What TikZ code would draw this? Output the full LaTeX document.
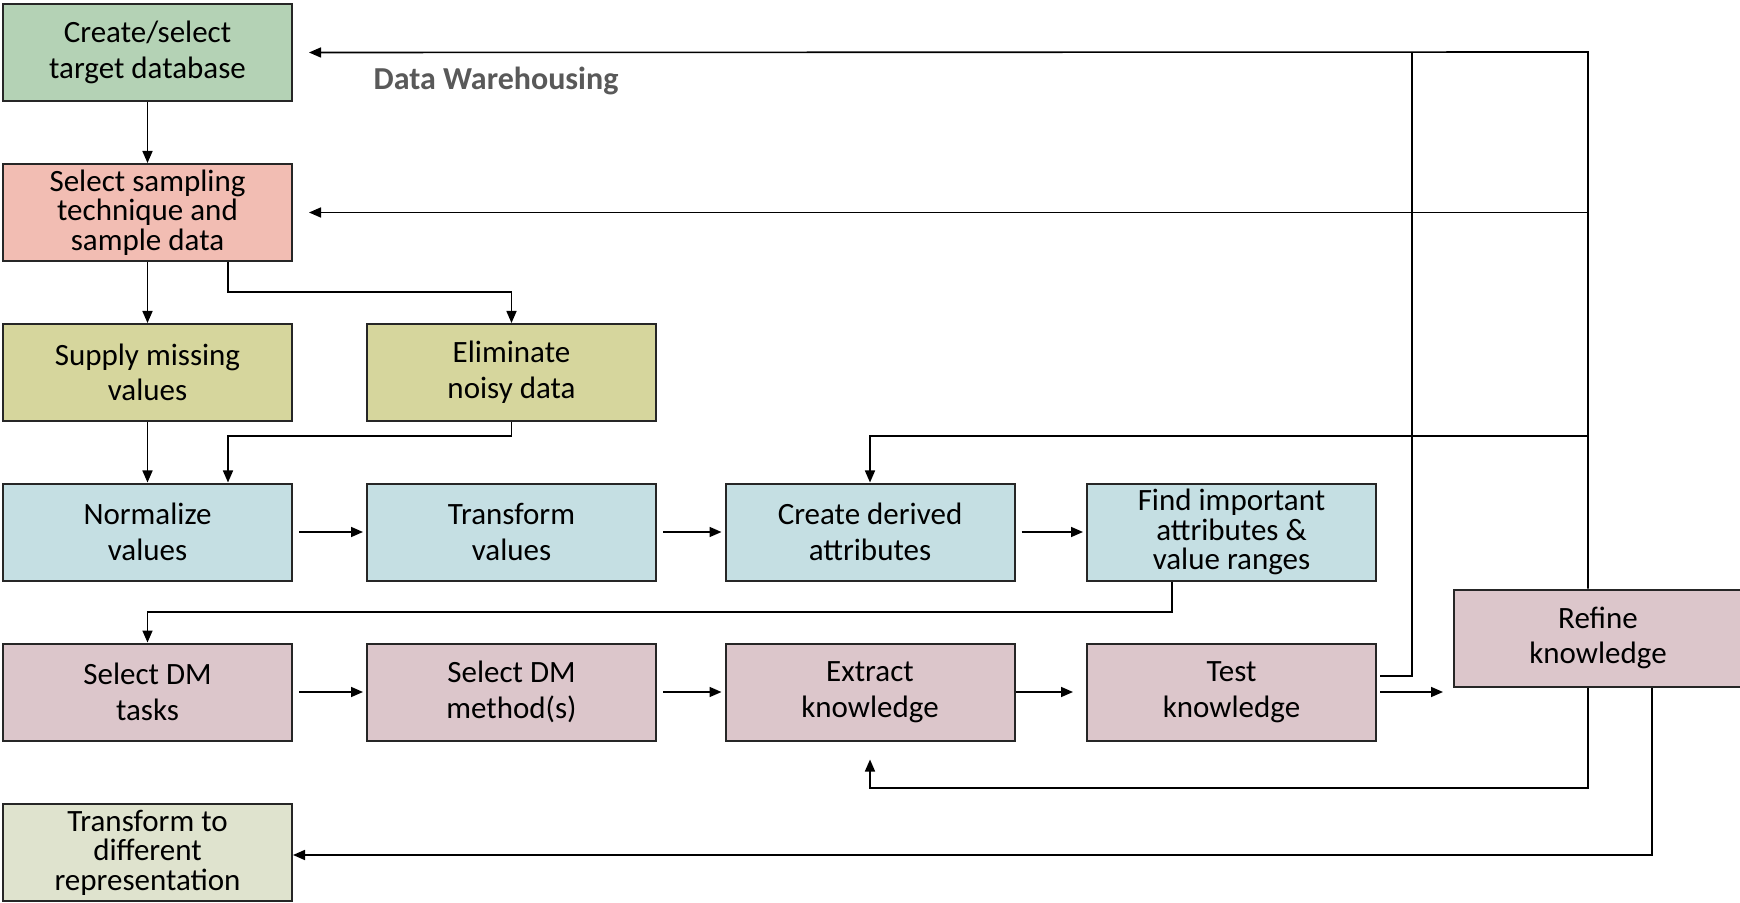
\documentclass[tikz,border=0pt]{standalone}
\usepackage{fontspec}
\setmainfont{Carlito}
\usetikzlibrary{arrows.meta}
\definecolor{createC}{HTML}{B4D2B5}
\definecolor{sampC}{HTML}{F2BDB3}
\definecolor{cleanC}{HTML}{D6D69D}
\definecolor{xformC}{HTML}{C5DFE3}
\definecolor{dmC}{HTML}{DCC6CB}
\definecolor{reprC}{HTML}{DFE3CE}
\definecolor{lblC}{HTML}{595959}
\begin{document}
\begin{tikzpicture}[x=0.5pt,y=-0.5pt,
  box/.style={draw=black!85, line width=1pt, minimum width=144.5pt, minimum height=48.5pt,
    align=center, inner sep=0pt, font=\fontsize{15.5}{17.8}\selectfont},
  tight/.style={font=\fontsize{15.5}{14.8}\selectfont},
  conn/.style={line width=0.8pt, draw=black},
  arr/.style={conn, -{Triangle[length=6pt,width=5pt]}},
  rowarr/.style={arr, shorten <=3pt, shorten >=1.5pt}]
\fill[white] (0,0) rectangle (1740,903);
\useasboundingbox (0,0) rectangle (1740,903);

% nodes
\node[box, fill=createC] (create) at (147.5,52.5) {Create/select\\target database};
\node[box, tight, fill=sampC] (sampling) at (147.5,212.5) {Select sampling\\technique and\\sample data};
\node[box, fill=cleanC] (supply) at (147.5,372.5) {Supply missing\\values};
\node[box, fill=cleanC] (elim) at (511.5,372.5) {Eliminate\\noisy data};
\node[box, fill=xformC] (norm) at (147.5,532) {Normalize\\values};
\node[box, fill=xformC] (trans) at (511.5,532) {Transform\\values};
\node[box, fill=xformC] (derived) at (870,532) {Create derived\\attributes};
\node[box, tight, fill=xformC] (find) at (1231.5,532) {Find important\\attributes \&\\value ranges};
\node[box, fill=dmC] (tasks) at (147.5,692) {Select DM\\tasks};
\node[box, fill=dmC] (methods) at (511.5,692) {Select DM\\method(s)};
\node[box, fill=dmC] (extract) at (870,692) {Extract\\knowledge};
\node[box, fill=dmC] (test) at (1231.5,692) {Test\\knowledge};
\node[box, fill=dmC] (refine) at (1598,638) {Refine\\knowledge};
\node[box, tight, fill=reprC] (repr) at (147.5,852.5) {Transform to\\different\\representation};
\node[font=\fontsize{16}{18}\selectfont\bfseries, text=lblC, anchor=center] (dw) at (496,81) {Data Warehousing};

% helper coordinates
\coordinate (b1) at (228,292);
\coordinate (b2) at (228,436);
\coordinate (b3) at (1172,612);
\coordinate (t1) at (1412,52);
\coordinate (r1) at (1588,52);
\coordinate (r2) at (1588,436);
\coordinate (r3) at (1588,788);
\coordinate (r4) at (1652,855);
\coordinate (refin) at (1443,692);

% connectors
\draw[arr] (create) -- (sampling);
\draw[arr] (sampling) -- (supply);
\draw[arr] (b1 |- sampling.south) -- (b1) -| (elim.north);
\draw[arr] (supply) -- (norm);
\draw[arr] (elim.south) |- (b2) -- (b2 |- norm.north);
\draw[rowarr] (norm) -- (trans);
\draw[rowarr] (trans) -- (derived);
\draw[rowarr] (derived) -- (find);
\draw[arr] (b3 |- find.south) -- (b3) -| (tasks.north);
\draw[rowarr] (tasks) -- (methods);
\draw[rowarr] (methods) -- (extract);
\draw[arr, shorten >=6.5pt] (extract) -- (test);
\draw[arr, shorten <=1.5pt] (test.east) -- (refin);
\draw[conn] ([shift={(1.5pt,8pt)}]test.east) -| (t1);
\draw[arr] (r1 |- refine.north) -- (r1) -- ([xshift=8pt]create.east);
\draw[arr] (r1 |- sampling.east) -- ([xshift=8pt]sampling.east);
\draw[arr] (r2) -| (derived.north);
\draw[arr] (r3 |- refine.south) -- (r3) -| ([yshift=-9pt]extract.south);
\draw[arr] (r4 |- refine.south) -- (r4) -- (r4 -| repr.east);
\end{tikzpicture}
\end{document}
